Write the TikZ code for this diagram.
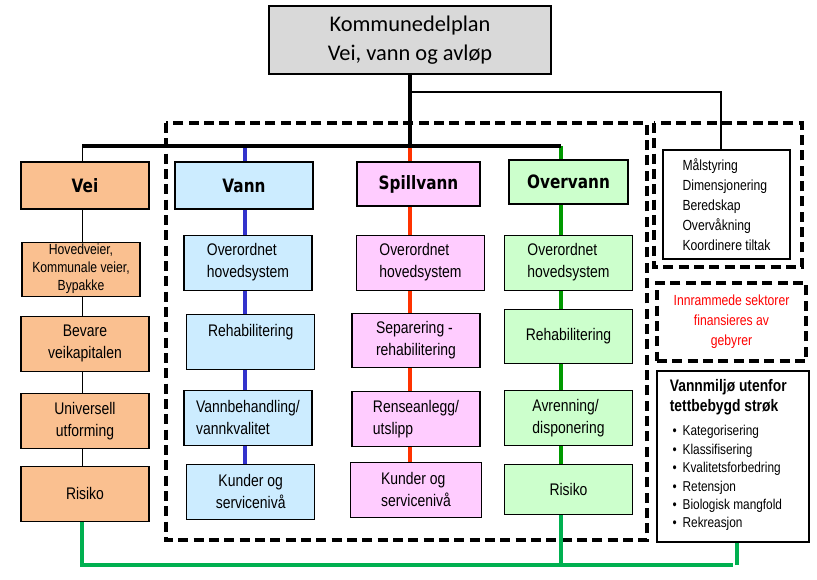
\documentclass[tikz,border=0pt]{standalone}
\usepackage{fontspec}
\setmainfont{Liberation Sans}[FakeStretch=0.83]
\newfontfamily\titlefont{Carlito}
\newfontfamily\headfont{DejaVu Sans}[FakeStretch=0.83]
\usepackage{xcolor}
\definecolor{titlegray}{HTML}{D9D9D9}
\definecolor{veifill}{HTML}{FAC090}
\definecolor{vannfill}{HTML}{CCECFF}
\definecolor{spillfill}{HTML}{FFCCFF}
\definecolor{overfill}{HTML}{CCFFCC}
\definecolor{vannblue}{HTML}{3333CC}
\definecolor{spillred}{HTML}{FF3300}
\definecolor{overgreen}{HTML}{009900}
\definecolor{bunngreen}{HTML}{00B050}
\usepackage{tikz}
\usetikzlibrary{positioning, backgrounds}

\begin{document}
\begin{tikzpicture}
[x=0.75pt, y=-0.75pt,
 colbox/.style={draw, line width=0.8pt, align=left,
 font=\fontsize{12.6}{16.5}\selectfont,
 minimum width=96pt, minimum height=41.25pt},
 colhead/.style={draw, line width=0.8pt,
 font=\headfont\bfseries\fontsize{13.8}{16}\selectfont},
 veihead/.style={colhead, fill=veifill, minimum width=96pt, minimum height=35.25pt},
 vannhead/.style={colhead, fill=vannfill, minimum width=103.5pt, minimum height=35.25pt},
 spillhead/.style={colhead, fill=spillfill, minimum width=92.25pt, minimum height=33pt},
 overhead/.style={colhead, fill=overfill, minimum width=89.25pt, minimum height=33pt},
 veibox/.style={colbox, fill=veifill, align=center},
 vannbox/.style={colbox, fill=vannfill},
 spillbox/.style={colbox, fill=spillfill},
 overbox/.style={colbox, fill=overfill},
 dashbox/.style={draw, line width=2.4pt, dash pattern=on 7.5pt off 4pt},
 trunk/.style={line width=2.6pt},
 veipipe/.style={line width=0.75pt},
 vannpipe/.style={line width=2.6pt, vannblue},
 spillpipe/.style={line width=2.6pt, spillred},
 overpipe/.style={line width=2.6pt, overgreen},
 bunnpipe/.style={line width=3pt, bunngreen},
]
\useasboundingbox (0,0) rectangle (817,579);

% title
\node[draw, line width=0.8pt, fill=titlegray, minimum width=211.5pt, minimum height=51pt,
 align=center, font=\titlefont\fontsize{16.8}{21.75}\selectfont]
 (plan) at (410,40) {Kommunedelplan\\Vei, vann og avløp};

% Vei
\node[veihead] (vei) at (85,185.5) {Vei};
\node[veibox, below=24pt of vei, xshift=-3pt, minimum width=88.5pt, minimum height=40.5pt,
 inner sep=1pt, font=\fontsize{11}{13.5}\selectfont] (hovedveier) {Hovedveier,\\Kommunale veier,\\Bypakke};
\node[veibox, below=14.25pt of hovedveier, xshift=3pt] (bevare) {Bevare\\veikapitalen};
\node[veibox, below=15.75pt of bevare] (universell) {Universell\\utforming};
\node[veibox, below=12.75pt of universell] (veirisiko) {Risiko};

% Vann
\node[vannhead] (vann) at (244,185.5) {Vann};
\node[vannbox, below=18.75pt of vann, xshift=3pt] (vannover) {Overordnet\\hovedsystem};
\node[vannbox, below=17.25pt of vannover, xshift=2pt] (vannrehab) {Rehabilitering\\~};
\node[vannbox, below=15pt of vannrehab, xshift=-2pt] (vannbeh) {Vannbehandling/\\vannkvalitet};
\node[vannbox, below=13.5pt of vannbeh, xshift=2pt, align=center] (vannkunder) {Kunder og\\servicenivå};

% Spillvann
\node[spillhead] (spill) at (418.5,184) {Spillvann};
\node[spillbox, below=21pt of spill, xshift=1.5pt] (spillover) {Overordnet\\hovedsystem};
\node[spillbox, below=16.5pt of spillover, xshift=-3.4pt, minimum height=40.5pt] (separering) {Separering -\\rehabilitering};
\node[spillbox, below=17.25pt of separering] (renseanlegg) {Renseanlegg/\\utslipp};
\node[spillbox, below=11.25pt of renseanlegg, minimum width=98.25pt] (spillkunder) {Kunder og\\servicenivå};

% Overvann
\node[overhead] (over) at (568.5,182) {Overvann};
\node[overbox, below=22.5pt of over] (overover) {Overordnet\\hovedsystem};
\node[overbox, below=13.5pt of overover, minimum height=40.5pt] (overrehab) {Rehabilitering};
\node[overbox, below=19.5pt of overrehab] (avrenning) {Avrenning/\\disponering};
\node[overbox, below=13.5pt of avrenning, minimum height=37.5pt] (overrisiko) {Risiko};

% right side
\node[draw, line width=0.8pt, fill=white, minimum width=95.25pt, minimum height=81.75pt,
 align=left, font=\fontsize{11}{15}\selectfont]
 (maal) at (726.5,204.5) {Målstyring\\Dimensjonering\\Beredskap\\Overvåkning\\Koordinere tiltak};
\node[dashbox, text=red, align=center, minimum width=111.75pt, minimum height=58.5pt,
 font=\fontsize{11}{15}\selectfont]
 (gebyr) at (731.5,322) {Innrammede sektorer\\finansieres av\\gebyrer};
\node[draw, line width=0.8pt, fill=white, minimum width=114pt, minimum height=128.25pt]
 (miljo) at (733,456.5) {};
\node[anchor=north west, align=left, font=\bfseries\fontsize{12.5}{15}\selectfont]
 (miljohead) at ([xshift=6.5pt,yshift=-3pt]miljo.north west) {Vannmiljø utenfor\\tettbebygd strøk};
\node[anchor=north west, align=left, font=\fontsize{10.7}{13.8}\selectfont]
 (miljolist) at ([xshift=2pt,yshift=-1pt]miljohead.south west)
 {\textbullet\hspace{4.5pt}Kategorisering\\\textbullet\hspace{4.5pt}Klassifisering\\
 \textbullet\hspace{4.5pt}Kvalitetsforbedring\\\textbullet\hspace{4.5pt}Retensjon\\
 \textbullet\hspace{4.5pt}Biologisk mangfold\\\textbullet\hspace{4.5pt}Rekreasjon};

\coordinate (hub) at (410,146);
\coordinate (veitop) at (82,146);
\coordinate (vanntop) at (245,144);
\coordinate (overtop) at (561,146);
\coordinate (branch) at (410,92);
\coordinate (bunn) at (0,565);

\begin{pgfonlayer}{background}
\draw[dashbox] (166,123) rectangle (647,540);
\draw[dashbox] (654,123) rectangle (802,267);

\draw[veipipe] (veitop) -- (veitop |- veirisiko.north);
\draw[vannpipe] (vanntop) -- (vanntop |- vannkunder.north);
\draw[spillpipe] (hub) -- (hub |- spillkunder.north);
\draw[overpipe] (overtop) -- (overtop |- overrisiko.north);
\draw[bunnpipe] (veitop |- veirisiko.south) |- (bunn -| miljo.south) ++(3pt,0) -- ([xshift=3pt]miljo.south);
\draw[bunnpipe] (overtop |- overrisiko.south) -- (overtop |- bunn);

\draw[line width=3pt] (plan.south) -- (hub);
\draw[trunk] (veitop) -- (overtop);
\draw[line width=1.5pt] (branch) -| ([xshift=-4.5pt]maal.north);
\end{pgfonlayer}
\end{tikzpicture}
\end{document}
